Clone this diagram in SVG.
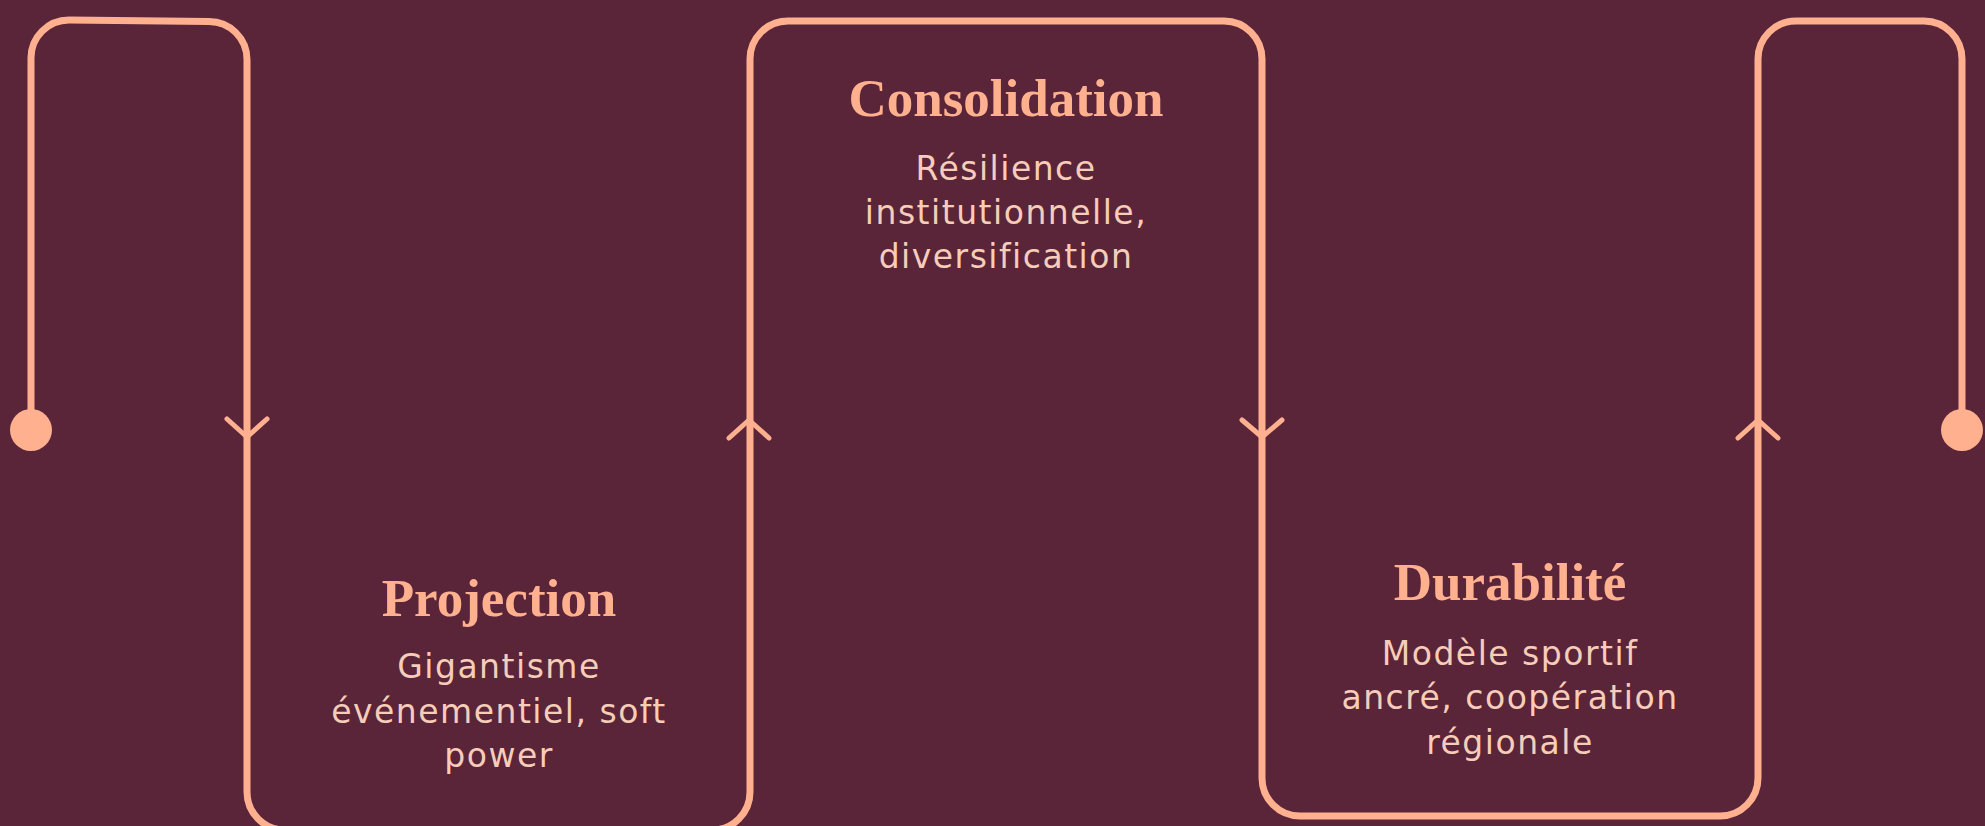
<svg xmlns="http://www.w3.org/2000/svg" width="1985" height="826" viewBox="0 0 1985 826">
  <style>
    .flow { fill: none; stroke: #FFB08F; stroke-width: 7; stroke-linecap: round; stroke-linejoin: round; }
    .arrow { fill: none; stroke: #FFB08F; stroke-width: 5; stroke-linecap: round; stroke-linejoin: round; }
    .dot { fill: #FFB08F; }
    .title { font-family: "Liberation Serif", "DejaVu Serif", serif; font-weight: bold; font-size: 53px; fill: #FFB08F; text-anchor: middle; }
    .body { font-family: "DejaVu Sans", "Noto Sans", sans-serif; font-size: 33px; letter-spacing: 1.5px; fill: #F6CDB9; text-anchor: middle; }
  </style>
  <rect x="0" y="0" width="1985" height="826" fill="#5A2439"/>
  <g id="connectors">
    <path class="flow" d="M31,430 L31,58 A38,38 0 0 1 69,20 L209,21.5 A38,38 0 0 1 247,59.5 L247,792 A38,38 0 0 0 285,830 L712,830 A38,38 0 0 0 750,792 L750,59 A38,38 0 0 1 788,21 L1224,21 A38,38 0 0 1 1262,59 L1262,778 A38,38 0 0 0 1300,816 L1720,816 A38,38 0 0 0 1758,778 L1758,59 A38,38 0 0 1 1796,21 L1924,21 A38,38 0 0 1 1962,59 L1962,430"/>
    <circle class="dot" cx="31" cy="430" r="21"/>
    <circle class="dot" cx="1962" cy="430" r="21"/>
    <path class="arrow" d="M227,419 L247,437 L267,419"/>
    <path class="arrow" d="M729,438 L749,420 L769,438"/>
    <path class="arrow" d="M1242,420 L1262,437 L1282,420"/>
    <path class="arrow" d="M1738,438 L1758,420 L1778,438"/>
  </g>
  <g id="node-projection">
    <text class="title" x="499" y="616">Projection</text>
    <text class="body" x="499" y="678">Gigantisme</text>
    <text class="body" x="499" y="723">événementiel, soft</text>
    <text class="body" x="499" y="767">power</text>
  </g>
  <g id="node-consolidation">
    <text class="title" x="1006" y="116">Consolidation</text>
    <text class="body" x="1006" y="180">Résilience</text>
    <text class="body" x="1006" y="224">institutionnelle,</text>
    <text class="body" x="1006" y="268">diversification</text>
  </g>
  <g id="node-durabilite">
    <text class="title" x="1510" y="600">Durabilité</text>
    <text class="body" x="1510" y="665">Modèle sportif</text>
    <text class="body" x="1510" y="709">ancré, coopération</text>
    <text class="body" x="1510" y="754">régionale</text>
  </g>
</svg>
